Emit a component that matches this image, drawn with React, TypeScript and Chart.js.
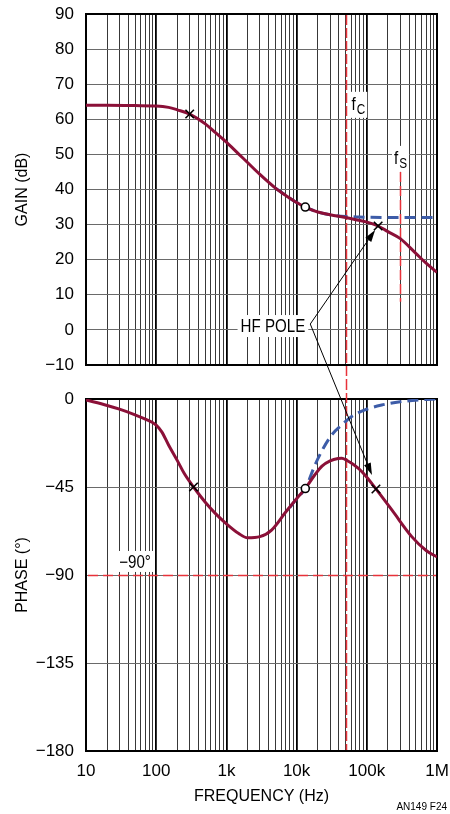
import { useEffect, useRef } from 'react';
import { Chart, registerables } from 'chart.js';

Chart.register(...registerables);

const FONT = "'Liberation Sans Narrow', 'Arial Narrow', 'Liberation Sans', Arial, sans-serif";
const NARROW = 0.84;

const CURVE = '#8b1038';
const FLAT = '#3d5ca8';
const MARK_RED = '#e8323a';

// Frequency grid (Hz), 1..9 per decade
const FREQ_GRID = [
  10, 20, 30, 40, 50, 60, 70, 80, 90,
  100, 200, 300, 400, 500, 600, 700, 800, 900,
  1000, 2000, 3000, 4000, 5000, 6000, 7000, 8000, 9000,
  10000, 20000, 30000, 40000, 50000, 60000, 70000, 80000, 90000,
  100000, 200000, 300000, 400000, 500000, 600000, 700000, 800000, 900000,
  1000000,
];
const FREQ_LABEL_AT = [10, 100, 1000, 10000, 100000, 1000000];
const FREQ_LABELS = ['10', '100', '1k', '10k', '100k', '1M'];
const GAIN_TICKS = [-10, 0, 10, 20, 30, 40, 50, 60, 70, 80, 90];
const PHASE_TICKS = [-180, -135, -90, -45, 0];

// Loop gain, with the HF pole
const GAIN_FREQ = [10, 20, 50, 100, 150, 200, 300, 500, 700, 1000, 1500, 2000, 3000, 5000, 7000, 10000, 13300, 20000, 30000, 50000, 70000, 100000, 145000, 200000, 300000, 500000, 700000, 1000000];
const GAIN_DB = [64.0, 64.0, 63.9, 63.8, 63.4, 62.7, 61.5, 58.7, 56.2, 53.5, 50.1, 47.7, 44.3, 40.4, 38.3, 36.3, 35.0, 33.6, 32.8, 32.0, 31.4, 30.7, 29.6, 28.0, 26.0, 21.8, 19.0, 16.4];

// Loop gain without the HF pole
const GAIN_NOPOLE_FREQ = [5000, 7000, 10000, 13300, 20000, 30000, 50000, 70000, 100000, 200000, 500000, 1000000];
const GAIN_NOPOLE_DB = [40.4, 38.3, 36.3, 35.0, 33.6, 32.8, 32.3, 32.2, 32.1, 32.0, 32.0, 32.0];

// Loop phase, with the HF pole
const PHASE_FREQ = [10, 20, 30, 50, 70, 100, 120, 150, 200, 250, 340, 500, 700, 1000, 1500, 2000, 3000, 4400, 7000, 10000, 13300, 18000, 23000, 30000, 39000, 44000, 51000, 76000, 100000, 135000, 230000, 440000, 700000, 1000000];
const PHASE_DEG = [-0.5, -3.3, -5.2, -8.1, -10.3, -13.3, -16.8, -23.5, -31.5, -38, -45, -52.8, -58.6, -63.8, -68.8, -71.0, -70.4, -67, -57.8, -51, -45.8, -39, -34.3, -31.6, -30.4, -30.3, -31.2, -35.5, -40, -46, -57, -70.5, -77.5, -80.8];

// Loop phase without the HF pole
const PHASE_NOPOLE_FREQ = [8000, 10000, 13300, 18300, 24000, 31600, 43900, 60900, 94000, 163000, 300000, 600000, 1000000];
const PHASE_NOPOLE_DEG = [-55.5, -51, -45.8, -33.7, -25.2, -18.4, -13.3, -9.0, -5.6, -3.1, -1.4, -0.4, 0];

// Pole (×) and zero (○) markers
const GAIN_POLE_FREQ = [300, 145000];
const GAIN_POLE_DB = [61.5, 29.6];
const GAIN_ZERO_FREQ = [13300];
const GAIN_ZERO_DB = [35.0];
const PHASE_POLE_FREQ = [340, 135000];
const PHASE_POLE_DEG = [-45, -46];
const PHASE_ZERO_FREQ = [13300];
const PHASE_ZERO_DEG = [-45.8];

// Crossover and switching frequencies
const F_C = 50000;
const F_S = 300000;
const FS_SPAN_DB = [8, 45];
const PHASE_REF = -90;

const xy = (xs: number[], ys: number[]) => xs.map((x, i) => ({ x, y: ys[i] }));
const minus = (v: number) => (v < 0 ? '\u2212' + Math.abs(v) : String(v));
const isDecade = (v: number) => FREQ_LABEL_AT.includes(v);

function xScale(withLabels: boolean) {
  return {
    type: 'logarithmic' as const,
    min: 10,
    max: 1000000,
    afterBuildTicks: (s: any) => {
      s.ticks = FREQ_GRID.map((value) => ({ value }));
    },
    afterFit: (s: any) => {
      s.height = withLabels ? 63 : 0;
      s.paddingLeft = 0;
      s.paddingRight = 0;
    },
    border: { display: false },
    grid: {
      drawTicks: false,
      color: (c: any) => (isDecade(c.tick?.value) ? '#000' : '#383838'),
      lineWidth: (c: any) => (isDecade(c.tick?.value) ? 1.8 : 1),
    },
    ticks: {
      display: withLabels,
      autoSkip: false,
      maxRotation: 0,
      padding: 10,
      color: '#000',
      font: { family: FONT, size: 17 },
      callback: (v: any) => {
        const i = FREQ_LABEL_AT.indexOf(Number(v));
        return i >= 0 ? FREQ_LABELS[i] : '';
      },
    },
    title: {
      display: withLabels,
      text: 'FREQUENCY (Hz)',
      color: '#000',
      font: { family: FONT, size: 16 },
      padding: { top: 0, bottom: 8 },
    },
  };
}

function yScale(min: number, max: number, ticks: number[], title: string) {
  return {
    type: 'linear' as const,
    min,
    max,
    afterBuildTicks: (s: any) => {
      s.ticks = ticks.map((value) => ({ value }));
    },
    afterFit: (s: any) => {
      s.width = 86;
      s.paddingTop = 0;
      s.paddingBottom = 0;
    },
    border: { display: false },
    grid: { drawTicks: false, color: '#6a6a6a', lineWidth: 1 },
    ticks: {
      padding: 12,
      color: '#000',
      font: { family: FONT, size: 17 },
      callback: (v: any) => minus(Number(v)),
    },
    title: {
      display: true,
      text: title,
      color: '#000',
      font: { family: FONT, size: 16 },
      padding: { top: 13, bottom: 0 },
    },
  };
}

function curve(data: any[], color: string, dashed: boolean, order: number) {
  return {
    data,
    borderColor: color,
    borderWidth: 3,
    borderDash: dashed ? [11, 6] : [],
    pointRadius: 0,
    cubicInterpolationMode: 'monotone' as const,
    fill: false,
    order,
  };
}

function crosses(data: any[]) {
  return {
    data,
    showLine: false,
    pointStyle: 'crossRot' as const,
    pointRadius: 6,
    borderColor: '#000',
    borderWidth: 1.6,
    backgroundColor: '#000',
    order: 0,
  };
}

function circles(data: any[]) {
  return {
    data,
    showLine: false,
    pointStyle: 'circle' as const,
    pointRadius: 4,
    borderColor: '#000',
    borderWidth: 1.6,
    backgroundColor: '#fff',
    order: 0,
  };
}

function line(ctx: CanvasRenderingContext2D, x0: number, y0: number, x1: number, y1: number) {
  ctx.beginPath();
  ctx.moveTo(x0, y0);
  ctx.lineTo(x1, y1);
  ctx.stroke();
}

function frame(chart: any) {
  const { ctx, chartArea: a } = chart;
  ctx.save();
  ctx.strokeStyle = '#000';
  ctx.lineWidth = 2;
  ctx.strokeRect(a.left, a.top, a.right - a.left, a.bottom - a.top);
  ctx.restore();
}

// Text squeezed horizontally to a narrow face
function narrowText(ctx: CanvasRenderingContext2D, text: string, x: number, y: number, size: number) {
  ctx.save();
  ctx.font = `${size}px ${FONT}`;
  ctx.textAlign = 'left';
  ctx.translate(x, y);
  ctx.scale(NARROW, 1);
  ctx.fillText(text, 0, 0);
  ctx.restore();
}
function narrowWidth(ctx: CanvasRenderingContext2D, text: string, size: number) {
  ctx.save();
  ctx.font = `${size}px ${FONT}`;
  const w = ctx.measureText(text).width * NARROW;
  ctx.restore();
  return w;
}

// "f" with a subscript, on a white patch; x is the left edge or the centre
function subLabel(ctx: CanvasRenderingContext2D, sub: string, x: number, base: number, centred: boolean) {
  const wf = narrowWidth(ctx, 'f', 18);
  const ws = narrowWidth(ctx, sub, 14);
  const w = wf + ws + 1;
  const left = centred ? x - w / 2 : x;
  ctx.save();
  ctx.fillStyle = '#fff';
  ctx.fillRect(left - 2, base - 18, w + 4, 26);
  ctx.fillStyle = '#000';
  ctx.textBaseline = 'alphabetic';
  narrowText(ctx, 'f', left, base, 18);
  narrowText(ctx, sub, left + wf + 1, base + 4, 14);
  ctx.restore();
}

const gainDecor = {
  id: 'gainDecor',
  beforeDatasetsDraw(chart: any) {
    const { ctx, chartArea: a, scales } = chart;
    const xs = scales.x;
    const ys = scales.y;
    frame(chart);
    ctx.save();
    ctx.strokeStyle = MARK_RED;
    ctx.lineWidth = 1.5;
    const xc = Math.round(xs.getPixelForValue(F_C)) + 0.5;
    ctx.setLineDash([10, 3]);
    line(ctx, xc, a.top + 1, xc, chart.height);
    const xf = Math.round(xs.getPixelForValue(F_S)) + 0.5;
    ctx.setLineDash([10, 4]);
    line(ctx, xf, ys.getPixelForValue(FS_SPAN_DB[1]), xf, ys.getPixelForValue(FS_SPAN_DB[0]));
    ctx.restore();
    subLabel(ctx, 'C', xc + 5, ys.getPixelForValue(62.7), false);
    subLabel(ctx, 'S', xf, ys.getPixelForValue(47.3), true);
  },
};

const phaseDecor = {
  id: 'phaseDecor',
  beforeDatasetsDraw(chart: any) {
    const { ctx, chartArea: a, scales } = chart;
    const xs = scales.x;
    const ys = scales.y;
    frame(chart);
    ctx.save();
    ctx.strokeStyle = MARK_RED;
    ctx.lineWidth = 1.5;
    const y90 = Math.round(ys.getPixelForValue(PHASE_REF)) + 0.5;
    ctx.setLineDash([10, 5]);
    line(ctx, a.left + 2, y90, a.right - 1, y90);
    const xc = Math.round(xs.getPixelForValue(F_C)) + 0.5;
    ctx.setLineDash([10, 3]);
    line(ctx, xc, 0, xc, a.bottom - 1);
    ctx.setLineDash([]);
    // −90° tag above the reference line
    const text = minus(PHASE_REF) + '°';
    const w = narrowWidth(ctx, text, 18);
    const cx = xs.getPixelForValue(50);
    const base = ys.getPixelForValue(-86.4);
    ctx.fillStyle = '#fff';
    ctx.fillRect(cx - w / 2 - 3, base - 17, w + 6, 21);
    ctx.fillStyle = '#000';
    ctx.textBaseline = 'alphabetic';
    narrowText(ctx, text, cx - w / 2, base, 18);
    ctx.restore();
  },
};

function arrow(ctx: CanvasRenderingContext2D, x0: number, y0: number, x1: number, y1: number) {
  const ang = Math.atan2(y1 - y0, x1 - x0);
  const len = 12;
  const half = 3.6;
  const bx = x1 - len * Math.cos(ang);
  const by = y1 - len * Math.sin(ang);
  ctx.beginPath();
  ctx.moveTo(x0, y0);
  ctx.lineTo(bx, by);
  ctx.stroke();
  ctx.beginPath();
  ctx.moveTo(x1, y1);
  ctx.lineTo(bx + half * Math.sin(ang), by - half * Math.cos(ang));
  ctx.lineTo(bx - half * Math.sin(ang), by + half * Math.cos(ang));
  ctx.closePath();
  ctx.fill();
}

function drawOverlay(canvas: HTMLCanvasElement, top: any, bottom: any, bottomOffset: number) {
  const ctx = canvas.getContext('2d')!;
  ctx.clearRect(0, 0, canvas.width, canvas.height);

  const gx = top.scales.x.getPixelForValue(GAIN_POLE_FREQ[1]);
  const gy = top.scales.y.getPixelForValue(GAIN_POLE_DB[1]);
  const px = bottom.scales.x.getPixelForValue(PHASE_POLE_FREQ[1]);
  const py = bottom.scales.y.getPixelForValue(PHASE_POLE_DEG[1]) + bottomOffset;

  // HF POLE callout
  const text = 'HF POLE';
  const w = narrowWidth(ctx, text, 18);
  const cx = top.scales.x.getPixelForValue(4600);
  const cy = top.scales.y.getPixelForValue(1.1);
  ctx.fillStyle = '#fff';
  ctx.fillRect(cx - w / 2 - 3, cy - 11, w + 6, 22);
  ctx.fillStyle = '#000';
  ctx.textBaseline = 'middle';
  narrowText(ctx, text, cx - w / 2, cy + 1, 18);

  const ox = cx + w / 2 + 5;
  const oy = cy - 2;
  ctx.strokeStyle = '#000';
  ctx.lineWidth = 1;
  arrow(ctx, ox, oy, gx - 3, gy + 4);
  arrow(ctx, ox, oy, px - 4, py - 14);

  // Figure tag
  ctx.font = `10px ${FONT}`;
  ctx.textAlign = 'right';
  ctx.textBaseline = 'alphabetic';
  ctx.fillText('AN149 F24', 447, 810);
}

export default function App() {
  const topRef = useRef<HTMLCanvasElement>(null);
  const bottomRef = useRef<HTMLCanvasElement>(null);
  const overlayRef = useRef<HTMLCanvasElement>(null);
  const BOTTOM_TOP = 380;

  useEffect(() => {
    Chart.defaults.font.family = FONT;

    const common = {
      animation: false as const,
      responsive: false,
      events: [] as any[],
      plugins: { legend: { display: false }, tooltip: { enabled: false } },
    };

    const top = new Chart(topRef.current!, {
      type: 'line',
      data: {
        datasets: [
          crosses(xy(GAIN_POLE_FREQ, GAIN_POLE_DB)),
          circles(xy(GAIN_ZERO_FREQ, GAIN_ZERO_DB)),
          curve(xy(GAIN_FREQ, GAIN_DB), CURVE, false, 1),
          curve(xy(GAIN_NOPOLE_FREQ, GAIN_NOPOLE_DB), FLAT, true, 2),
        ] as any,
      },
      options: {
        ...common,
        layout: { padding: { top: 14, bottom: 15, left: 0, right: 13 } },
        scales: {
          x: xScale(false) as any,
          y: yScale(-10, 90, GAIN_TICKS, 'GAIN (dB)') as any,
        },
      },
      plugins: [gainDecor],
    });

    const bottom = new Chart(bottomRef.current!, {
      type: 'line',
      data: {
        datasets: [
          crosses(xy(PHASE_POLE_FREQ, PHASE_POLE_DEG)),
          circles(xy(PHASE_ZERO_FREQ, PHASE_ZERO_DEG)),
          curve(xy(PHASE_FREQ, PHASE_DEG), CURVE, false, 1),
          curve(xy(PHASE_NOPOLE_FREQ, PHASE_NOPOLE_DEG), FLAT, true, 2),
        ] as any,
      },
      options: {
        ...common,
        layout: { padding: { top: 19, bottom: 0, left: 0, right: 13 } },
        scales: {
          x: xScale(true) as any,
          y: yScale(-180, 0, PHASE_TICKS, 'PHASE (°)') as any,
        },
      },
      plugins: [phaseDecor],
    });

    drawOverlay(overlayRef.current!, top, bottom, BOTTOM_TOP);

    return () => {
      top.destroy();
      bottom.destroy();
    };
  }, []);

  return (
    <div style={{ position: 'absolute', left: 0, top: 0, width: 450, height: 814, background: '#fff' }}>
      <canvas ref={topRef} width={450} height={BOTTOM_TOP} style={{ position: 'absolute', left: 0, top: 0 }} />
      <canvas ref={bottomRef} width={450} height={814 - BOTTOM_TOP} style={{ position: 'absolute', left: 0, top: BOTTOM_TOP }} />
      <canvas ref={overlayRef} width={450} height={814} style={{ position: 'absolute', left: 0, top: 0, pointerEvents: 'none' }} />
    </div>
  );
}
